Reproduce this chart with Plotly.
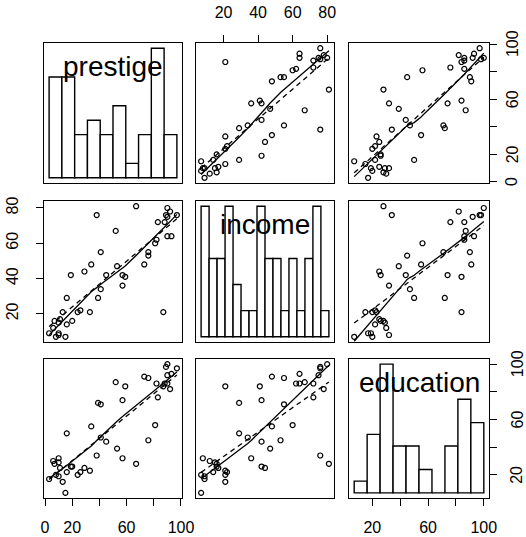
import numpy as np
import plotly.graph_objects as go

# Duncan occupational prestige data
prestige = [82, 83, 90, 76, 90, 87, 93, 90, 52, 88, 57, 89, 97, 59, 73, 38, 76, 81, 45, 92,
            39, 34, 41, 16, 33, 53, 67, 57, 26, 29, 10, 15, 19, 10, 13, 24, 20, 7, 3, 16,
            6, 11, 8, 41, 10]
income = [62, 72, 75, 55, 64, 21, 64, 80, 67, 72, 42, 76, 76, 41, 48, 76, 53, 60, 42, 78,
          29, 48, 55, 29, 21, 47, 81, 36, 22, 44, 15, 7, 42, 9, 21, 21, 16, 16, 9, 14,
          12, 17, 7, 34, 8]
education = [86, 76, 92, 90, 86, 84, 93, 100, 87, 86, 74, 98, 97, 84, 91, 34, 45, 56, 44, 82,
             72, 55, 71, 50, 23, 39, 28, 32, 22, 25, 29, 7, 26, 19, 15, 20, 26, 28, 17, 22,
             30, 25, 20, 47, 32]

var_names = ["prestige", "income", "education"]
breaks = {
    "prestige": [0, 10, 20, 30, 40, 50, 60, 70, 80, 90, 100],
    "income": [5, 10, 15, 20, 25, 30, 35, 40, 45, 50, 55, 60, 65, 70, 75, 80, 85],
    "education": [0, 10, 20, 30, 40, 50, 60, 70, 80, 90, 100],
}
prestige_ticks = [0, 20, 40, 60, 80, 100]
prestige_ticktext = ["0", "20", "", "60", "", "100"]
income_ticks = [20, 40, 60, 80]
income_ticktext = ["20", "40", "60", "80"]
education_ticks = [20, 40, 60, 80, 100]
education_ticktext = ["20", "", "60", "", "100"]

data = {"prestige": np.array(prestige, float), "income": np.array(income, float),
        "education": np.array(education, float)}


def ext_range(v):
    lo, hi = float(np.min(v)), float(np.max(v))
    d = (hi - lo) * 0.04
    return [lo - d, hi + d]


def lowess(x, y, f=2 / 3, iters=3):
    order = np.argsort(x, kind="mergesort")
    x = np.asarray(x, float)[order]
    y = np.asarray(y, float)[order]
    n = len(x)
    r = int(np.ceil(f * n))
    rob = np.ones(n)
    yfit = np.zeros(n)
    for it in range(iters + 1):
        for i in range(n):
            d = np.abs(x - x[i])
            h = np.sort(d)[r - 1]
            if h <= 0:
                h = 1e-9
            w = np.clip(d / h, 0, 1)
            w = (1 - w ** 3) ** 3 * rob
            sw = w.sum()
            xm = (w * x).sum() / sw
            ym = (w * y).sum() / sw
            sxx = (w * (x - xm) ** 2).sum()
            if sxx > 1e-12:
                b = (w * (x - xm) * (y - ym)).sum() / sxx
            else:
                b = 0.0
            yfit[i] = ym + b * (x[i] - xm)
        res = y - yfit
        s = np.median(np.abs(res))
        if s == 0:
            break
        u = np.clip(res / (6 * s), -1, 1)
        rob = (1 - u ** 2) ** 2
    return x, yfit


def ax_id(k):
    return "" if k == 1 else str(k)


# panel geometry (pixels)
W, H = 526, 537
cols_px = [(44, 182), (196, 334), (349, 489)]
rows_px = [(43, 183), (201, 342), (359, 498)]

FONT = "Liberation Sans, Arial, Helvetica, sans-serif"

fig = go.Figure()
layout = dict(
    width=W, height=H, autosize=False,
    margin=dict(l=0, r=0, t=0, b=0, pad=0),
    paper_bgcolor="white", plot_bgcolor="white",
    showlegend=False,
    font=dict(family=FONT, size=16, color="black"),
    annotations=[],
)

axis_base = dict(showgrid=False, zeroline=False, showline=True, mirror=True,
                 linecolor="black", linewidth=1.4, showticklabels=False, ticks="",
                 fixedrange=True, automargin=False)


def xdom(c):
    return [cols_px[c][0] / W, cols_px[c][1] / W]


def ydom(r):
    return [1 - rows_px[r][1] / H, 1 - rows_px[r][0] / H]


tick_style = dict(ticks="outside", ticklen=7, tickwidth=1.2, tickcolor="black",
                  showticklabels=True, tickfont=dict(size=16, family=FONT, color="black"))

for r in range(3):
    for c in range(3):
        k = r * 3 + c + 1
        sid = ax_id(k)
        xa = dict(axis_base, domain=xdom(c), anchor="y" + sid)
        ya = dict(axis_base, domain=ydom(r), anchor="x" + sid)
        vx = var_names[c]
        vy = var_names[r]
        if r == c:
            br = breaks[vx]
            v = data[vx]
            counts = []
            for i in range(len(br) - 1):
                lo, hi = br[i], br[i + 1]
                if i == 0:
                    m = (v >= lo) & (v <= hi)
                else:
                    m = (v > lo) & (v <= hi)
                counts.append(int(m.sum()))
            centers = [(br[i] + br[i + 1]) / 2 for i in range(len(br) - 1)]
            widths = [br[i + 1] - br[i] for i in range(len(br) - 1)]
            fig.add_trace(go.Bar(x=centers, y=counts, width=widths,
                                 marker=dict(color="white", line=dict(color="black", width=1.4)),
                                 xaxis="x" + sid, yaxis="y" + sid, hoverinfo="skip"))
            dx = (br[-1] - br[0]) * 0.04
            mx = max(counts)
            xa["range"] = [br[0] - dx, br[-1] + dx]
            ya["range"] = [-0.04 * mx, 1.04 * mx]
            layout["annotations"].append(dict(
                text=vx, xref="x%s domain" % sid, yref="y%s domain" % sid,
                x=0.5, y=0.83, xanchor="center", yanchor="middle", showarrow=False,
                font=dict(size=28, family=FONT, color="black")))
        else:
            x = data[vx]
            y = data[vy]
            xa["range"] = ext_range(x)
            ya["range"] = ext_range(y)
            fig.add_trace(go.Scatter(x=x, y=y, mode="markers",
                                     marker=dict(symbol="circle-open", size=5, color="black",
                                                 line=dict(width=1.2, color="black")),
                                     xaxis="x" + sid, yaxis="y" + sid, hoverinfo="skip"))
            # least squares line (dashed)
            b, a = np.polyfit(x, y, 1)
            xs = np.array([x.min(), x.max()])
            fig.add_trace(go.Scatter(x=xs, y=a + b * xs, mode="lines",
                                     line=dict(color="black", width=1.3, dash="5px,4px"),
                                     xaxis="x" + sid, yaxis="y" + sid, hoverinfo="skip"))
            # lowess smooth (solid)
            lx, ly = lowess(x, y)
            fig.add_trace(go.Scatter(x=lx, y=ly, mode="lines",
                                     line=dict(color="black", width=1.3),
                                     xaxis="x" + sid, yaxis="y" + sid, hoverinfo="skip"))
        layout["xaxis" + sid] = xa
        layout["yaxis" + sid] = ya

# outer axes with tick labels
layout["xaxis2"].update(tick_style, side="top", tickvals=income_ticks, ticktext=income_ticktext,
                        ticklabelstandoff=10)
layout["yaxis3"].update(tick_style, side="right", tickvals=prestige_ticks,
                        ticktext=prestige_ticktext, showticklabels=False)
layout["yaxis4"].update(tick_style, side="left", tickvals=income_ticks,
                        ticktext=income_ticktext, tickangle=-90, ticklabelstandoff=11)
layout["xaxis7"].update(tick_style, side="bottom", tickvals=prestige_ticks,
                        ticktext=prestige_ticktext, ticklabelstandoff=8)

# right-hand tick labels (rotated, reading upward), placed beside the ticks
for val, txt in zip(prestige_ticks, prestige_ticktext):
    if txt:
        layout["annotations"].append(dict(
            text=txt, xref="paper", yref="y3", x=512 / W, y=val, textangle=-90,
            xanchor="center", yanchor="middle", showarrow=False,
            font=dict(size=16, family=FONT, color="black")))

# education diagonal: ticks in education units on an overlay axis pair
edu_rng = ext_range(data["education"])
layout["xaxis10"] = dict(tick_style, overlaying="x9", anchor="y10", side="bottom",
                         range=edu_rng, tickvals=education_ticks, ticktext=education_ticktext,
                         showgrid=False, zeroline=False, showline=False, fixedrange=True,
                         automargin=False, domain=xdom(2), ticklabelstandoff=8)
layout["yaxis10"] = dict(tick_style, overlaying="y9", anchor="x10", side="right",
                         range=edu_rng, tickvals=education_ticks, ticktext=education_ticktext,
                         showticklabels=False, showgrid=False, zeroline=False,
                         showline=False, fixedrange=True, automargin=False, domain=ydom(2))
for val, txt in zip(education_ticks, education_ticktext):
    if txt:
        layout["annotations"].append(dict(
            text=txt, xref="paper", yref="y10", x=517 / W, y=val, textangle=-90,
            xanchor="center", yanchor="middle", showarrow=False,
            font=dict(size=16, family=FONT, color="black")))
fig.add_trace(go.Scatter(x=[None], y=[None], mode="markers", xaxis="x10", yaxis="y10",
                         hoverinfo="skip"))

fig.update_layout(**layout)
fig.write_html(
    "out.html",
    config={"displayModeBar": False},
    post_script="document.body.style.margin='0';"
                "document.documentElement.style.overflow='hidden';",
)
